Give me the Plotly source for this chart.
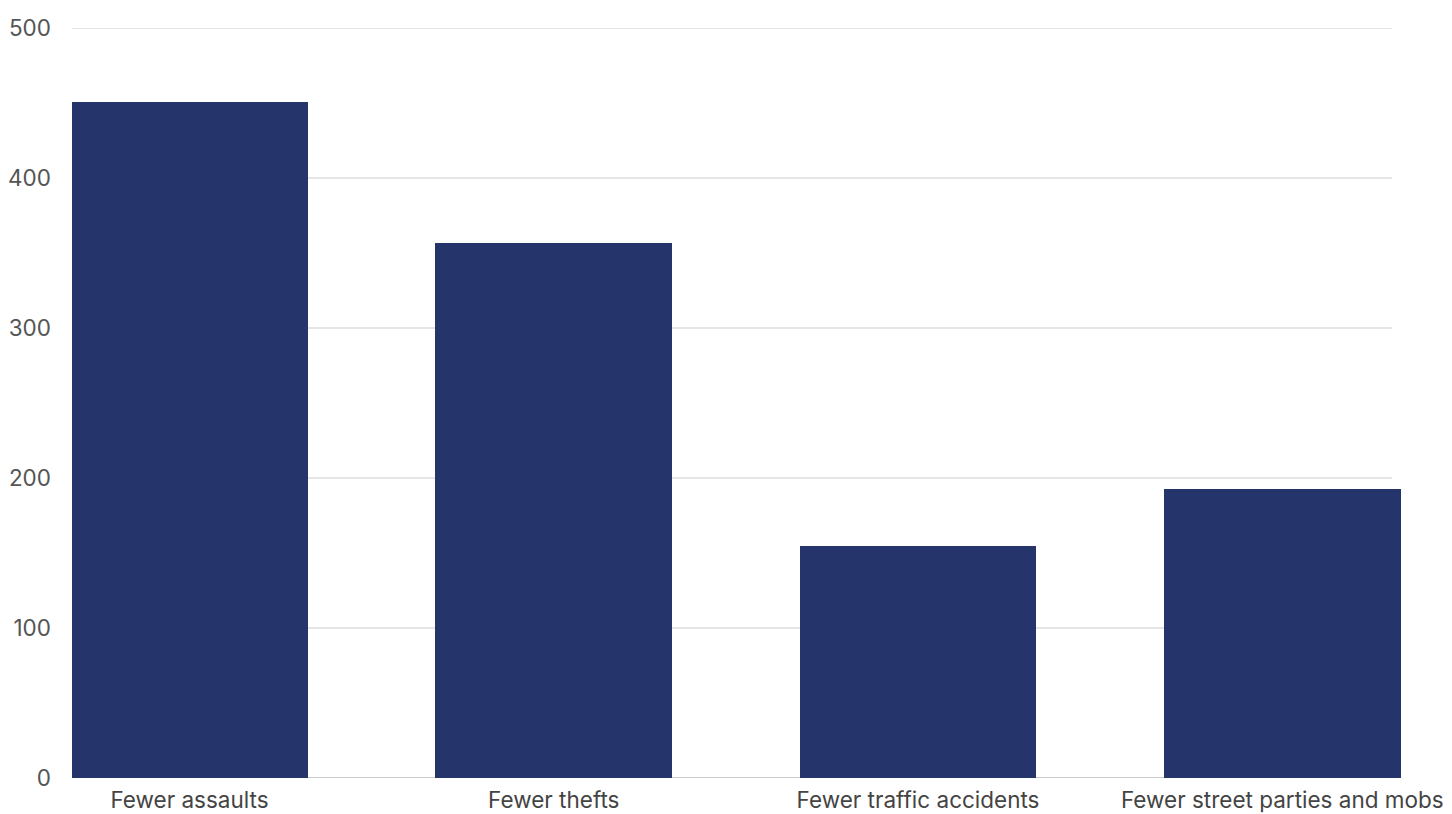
import plotly.graph_objects as go

# Reported reductions by category
categories = ["Fewer assaults", "Fewer thefts", "Fewer traffic accidents", "Fewer street parties and mobs"]
counts = [451, 357, 155, 193]
y_ticks = [0, 100, 200, 300, 400, 500]

BAR_COLOR = "#25356B"
GRID_COLOR = "#DCDCDC"

fig = go.Figure(
    go.Bar(
        x=list(range(len(categories))),
        y=counts,
        width=0.65,
        marker=dict(color=BAR_COLOR, line=dict(width=0)),
        hoverinfo="skip",
    )
)

# light horizontal gridlines at each tick (stop slightly short of the right edge)
grid_end = (1392 - 72) / (1404 - 72)
for v in y_ticks:
    fig.add_shape(
        type="line", xref="paper", yref="y",
        x0=0, x1=grid_end, y0=v, y1=v,
        line=dict(color="#BDBDBD" if v == 0 else GRID_COLOR, width=1.3),
        layer="below",
    )

fig.update_layout(
    width=1452,
    height=814,
    margin=dict(l=72, r=48, t=28, b=36, autoexpand=False),
    paper_bgcolor="white",
    plot_bgcolor="white",
    showlegend=False,
    font=dict(family="Inter, Roboto, sans-serif"),
    bargap=0,
)

fig.update_xaxes(
    tickmode="array",
    tickvals=list(range(len(categories))),
    ticktext=categories,
    range=[-0.3225, 3.334],
    showgrid=False,
    zeroline=False,
    showline=False,
    ticks="",
    ticklabelstandoff=6,
    tickfont=dict(size=22.5, color="#444444"),
    automargin=False,
    fixedrange=True,
)

fig.update_yaxes(
    range=[0, 500],
    tickvals=y_ticks,
    showgrid=False,
    zeroline=False,
    showline=False,
    ticks="",
    ticklabelstandoff=20,
    tickfont=dict(size=22.5, color="#555555"),
    automargin=False,
    fixedrange=True,
)

fig.write_html("out.html")
